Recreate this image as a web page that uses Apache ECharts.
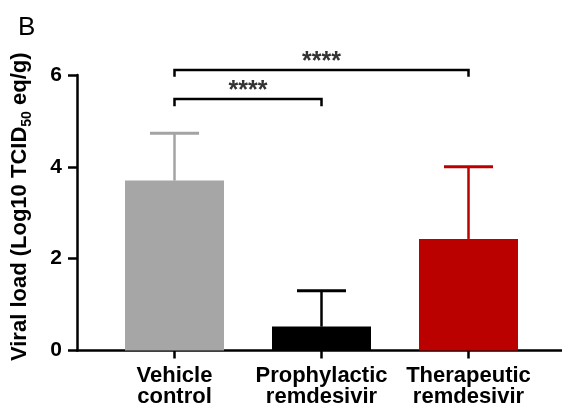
<!DOCTYPE html>
<html>
<head>
<meta charset="utf-8">
<script src="https://cdn.jsdelivr.net/npm/echarts@6/dist/echarts.min.js"></script>
<style>html,body{margin:0;padding:0;background:#fff;}#c{width:562px;height:408px;}</style>
</head>
<body>
<div id="c"></div>
<script>
// ---- data ----
const categories = ['Vehicle\ncontrol', 'Prophylactic\nremdesivir', 'Therapeutic\nremdesivir'];
const means = [3.70, 0.52, 2.43];
const upperSD = [4.73, 1.30, 4.00];
const barColors = ['#a6a6a6', '#000000', '#bb0000'];
const errColors = ['#a3a3a3', '#000000', '#bb0000'];
const compFrom = [0, 0];
const compTo = [2, 1];
const compLevel = [6.11, 5.48];
const compLeg = [5.96, 5.32];
const compLabel = ['****', '****'];
const yMin = 0, yMax = 6, yInterval = 2;

const FONT = 'Liberation Sans, Arial, sans-serif';
const chart = echarts.init(document.getElementById('c'), null, {renderer: 'canvas'});

const barData = means.map((v, i) => ({value: v, itemStyle: {color: barColors[i]}}));
const errData = means.map((v, i) => [i, v, upperSD[i]]);
const compData = compFrom.map((f, i) => [f, compTo[i], compLevel[i], compLeg[i]]);

chart.setOption({
  animation: false,
  title: {text: 'B', left: 13, top: 10, textStyle: {fontFamily: FONT, fontSize: 26, fontWeight: 'normal', color: '#000'}},
  grid: [
    {left: 101, right: 20, top: 75, bottom: 57.5},
    {left: 77, right: 0, top: 75, bottom: 57.5}
  ],
  xAxis: [
    {
      type: 'category', gridIndex: 0, data: categories,
      axisLine: {show: false},
      axisTick: {show: true, alignWithLabel: true, length: 8, lineStyle: {color: '#000', width: 2.5}},
      axisLabel: {interval: 0, margin: 15, color: '#000', fontFamily: FONT, fontWeight: 'bold', fontSize: 22, lineHeight: 21},
      splitLine: {show: false}
    },
    {
      type: 'value', gridIndex: 1, min: 0, max: 1,
      axisLine: {show: true, lineStyle: {color: '#000', width: 2.5}},
      axisTick: {show: false}, axisLabel: {show: false}, splitLine: {show: false}
    }
  ],
  yAxis: [
    {
      type: 'value', gridIndex: 0, min: yMin, max: yMax, interval: yInterval, offset: 24,
      axisLine: {show: true, lineStyle: {color: '#000', width: 2.5}},
      axisTick: {show: true, length: 9, lineStyle: {color: '#000', width: 2.5}},
      axisLabel: {color: '#000', fontFamily: FONT, fontWeight: 'bold', fontSize: 21, margin: 15},
      splitLine: {show: false},
      name: '{a|Viral load (Log10 TCID}{s|50}{a| eq/g)}',
      nameLocation: 'middle', nameRotate: 90, nameGap: 46,
      nameTextStyle: {
        color: '#000', fontFamily: FONT, fontWeight: 'bold', fontSize: 22, padding: [0, 0, 0, 12],
        rich: {
          a: {fontFamily: FONT, fontWeight: 'bold', fontSize: 22, color: '#000', lineHeight: 27, verticalAlign: 'bottom'},
          s: {fontFamily: FONT, fontWeight: 'bold', fontSize: 14, color: '#000', lineHeight: 27, verticalAlign: 'bottom', padding: [0, 0, -3, 0]}
        }
      }
    },
    {type: 'value', gridIndex: 1, min: 0, max: 1, show: false}
  ],
  series: [
    {
      type: 'bar', xAxisIndex: 0, yAxisIndex: 0, data: barData, barWidth: 99, z: 2
    },
    {
      type: 'custom', xAxisIndex: 0, yAxisIndex: 0, data: errData, z: 3,
      encode: {x: 0, y: [1, 2]},
      renderItem: function (params, api) {
        const i = params.dataIndex;
        const x = api.value(0), m = api.value(1), u = api.value(2);
        const p0 = api.coord([x, m]);
        const p1 = api.coord([x, u]);
        const half = api.size([1, 0])[0] / 6;
        const st = {stroke: errColors[i], lineWidth: 2.5};
        return {type: 'group', children: [
          {type: 'line', shape: {x1: p0[0], y1: p0[1], x2: p1[0], y2: p1[1]}, style: st},
          {type: 'line', shape: {x1: p1[0] - half, y1: p1[1], x2: p1[0] + half, y2: p1[1]}, style: {stroke: errColors[i], lineWidth: 3}}
        ]};
      }
    },
    {
      type: 'custom', xAxisIndex: 0, yAxisIndex: 0, data: compData, z: 4, clip: false,
      encode: {x: [0, 1], y: [2, 3]},
      renderItem: function (params, api) {
        const i = params.dataIndex;
        const a = api.value(0), b = api.value(1), lv = api.value(2), lg = api.value(3);
        const pA0 = api.coord([a, lg]), pA1 = api.coord([a, lv]);
        const pB1 = api.coord([b, lv]), pB0 = api.coord([b, lg]);
        return {type: 'group', children: [
          {type: 'polyline', shape: {points: [pA0, pA1, pB1, pB0]}, style: {stroke: '#000', lineWidth: 2.5, fill: null}},
          {type: 'text', x: (pA1[0] + pB1[0]) / 2, y: pA1[1] + 5,
            style: {text: compLabel[i], fill: '#333', font: 'bold 25px ' + FONT, textAlign: 'center', textVerticalAlign: 'bottom'}}
        ]};
      }
    }
  ]
});
</script>
</body>
</html>
